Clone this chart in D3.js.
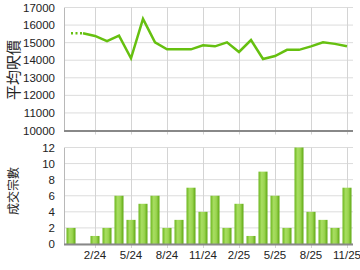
<!DOCTYPE html>
<html>
<head>
<meta charset="utf-8">
<script src="https://cdn.jsdelivr.net/npm/d3@7"></script>
<style>
  body { margin: 0; background: #fff; }
  svg { display: block; font-family: "Liberation Sans", Arial, sans-serif; }
</style>
</head>
<body>
<svg id="chart" width="360" height="270"></svg>
<script>
// months shown on the x axis (one bar / point per month)
const months = ["12/23", "1/24", "2/24", "3/24", "4/24", "5/24", "6/24", "7/24", "8/24", "9/24", "10/24", "11/24",
    "12/24", "1/25", "2/25", "3/25", "4/25", "5/25", "6/25", "7/25", "8/25", "9/25", "10/25", "11/25"];
const tickMonths = ["2/24", "5/24", "8/24", "11/24", "2/25", "5/25", "8/25", "11/25"];

// average price per sq ft
const avgPrice = [15530, 15530, 15380, 15080, 15400, 14110, 16350, 15020, 14620, 14620, 14620, 14850,
    14790, 15020, 14470, 15150, 14070, 14240, 14590, 14590, 14790, 15020, 14930, 14790];

// number of transactions
const deals = [2, 0, 1, 2, 6, 3, 5, 6, 2, 3, 7, 4, 6, 2, 5, 1, 9, 6, 2, 12, 4, 3, 2, 7];

const priceTicks = [10000, 11000, 12000, 13000, 14000, 15000, 16000, 17000];
const dealTicks = [0, 2, 4, 6, 8, 10, 12];

const svg = d3.select("#chart");
const left = 65, right = 353;

const x = d3.scaleBand().domain(months).range([left, right]).paddingInner(0.25).paddingOuter(0.125);
const cx = m => x(m) + x.bandwidth() / 2;

// gradient for bars
const defs = svg.append("defs");
const grad = defs.append("linearGradient").attr("id", "barGrad").attr("x1", "0").attr("x2", "1");
grad.append("stop").attr("offset", "0%").attr("stop-color", "#6cb61e");
grad.append("stop").attr("offset", "35%").attr("stop-color", "#a8de62");
grad.append("stop").attr("offset", "65%").attr("stop-color", "#9ad450");
grad.append("stop").attr("offset", "100%").attr("stop-color", "#5ea812");

function panel(top, bottom, y, ticks, showLabels) {
    const g = svg.append("g");
    // horizontal grid
    g.selectAll(".hg").data(ticks).enter().append("line")
        .attr("x1", left).attr("x2", right)
        .attr("y1", d => y(d)).attr("y2", d => y(d))
        .attr("stroke", "#dcdcdc").attr("stroke-width", 1);
    // vertical grid + tick marks
    g.selectAll(".vg").data(tickMonths).enter().append("line")
        .attr("x1", d => Math.round(cx(d)) + 0.5).attr("x2", d => Math.round(cx(d)) + 0.5)
        .attr("y1", top).attr("y2", bottom + 4)
        .attr("stroke", "#d4d4d4").attr("stroke-width", 1);
    // y tick labels
    g.selectAll(".yl").data(ticks).enter().append("text")
        .attr("x", 55).attr("y", d => y(d) + 4)
        .attr("text-anchor", "end")
        .attr("font-size", 11.5).attr("fill", "#222")
        .text(d => d);
    if (showLabels) {
        g.selectAll(".xl").data(tickMonths).enter().append("text")
            .attr("x", d => cx(d)).attr("y", bottom + 15)
            .attr("text-anchor", "middle")
            .attr("font-size", 11.5).attr("fill", "#222")
            .text(d => d);
    }
    return g;
}

// top panel: average price
const yTop = d3.scaleLinear().domain([10000, 17000]).range([130.5, 7.5]);
const gTop = panel(7.5, 130.5, yTop, priceTicks, false);

const line = d3.line().x((d, i) => cx(months[i])).y(d => yTop(d));
gTop.append("path")
    .attr("d", line(avgPrice.slice(0, 2).map((d, i) => d)))
    .attr("fill", "none").attr("stroke", "#66c010").attr("stroke-width", 2.5)
    .attr("stroke-dasharray", "2,2.5");
gTop.append("path")
    .datum(avgPrice.slice(1))
    .attr("d", d3.line().x((d, i) => cx(months[i + 1])).y(d => yTop(d)))
    .attr("fill", "none").attr("stroke", "#66c010").attr("stroke-width", 2.5)
    .attr("stroke-linejoin", "miter");

// bottom panel: number of deals
const yBot = d3.scaleLinear().domain([0, 12]).range([244, 147.5]);
const gBot = panel(147.5, 244, yBot, dealTicks, true);

gBot.selectAll(".bar").data(deals).enter().append("rect")
    .attr("x", (d, i) => x(months[i]))
    .attr("width", x.bandwidth())
    .attr("y", d => yBot(d))
    .attr("height", d => yBot(0) - yBot(d))
    .attr("fill", "url(#barGrad)");

// axis lines
[[7.5, 130.5], [147.5, 244]].forEach(([t, b]) => {
    svg.append("line").attr("x1", left - 0.5).attr("x2", left - 0.5).attr("y1", t).attr("y2", b + 1)
        .attr("stroke", "#b8b8b8").attr("stroke-width", 1);
    svg.append("line").attr("x1", left - 1).attr("x2", right).attr("y1", b + 0.5).attr("y2", b + 0.5)
        .attr("stroke", "#888").attr("stroke-width", 2);
});

// y axis titles
svg.append("text")
    .attr("transform", "translate(19,70) rotate(-90)")
    .attr("text-anchor", "middle").attr("font-size", 15).attr("fill", "#222")
    .attr("font-family", "Noto Sans CJK TC")
    .text("平均呎價");
svg.append("text")
    .attr("transform", "translate(18,191) rotate(-90)")
    .attr("text-anchor", "middle").attr("font-size", 12).attr("fill", "#222")
    .attr("font-family", "Noto Sans CJK TC")
    .text("成交宗數");
</script>
</body>
</html>
